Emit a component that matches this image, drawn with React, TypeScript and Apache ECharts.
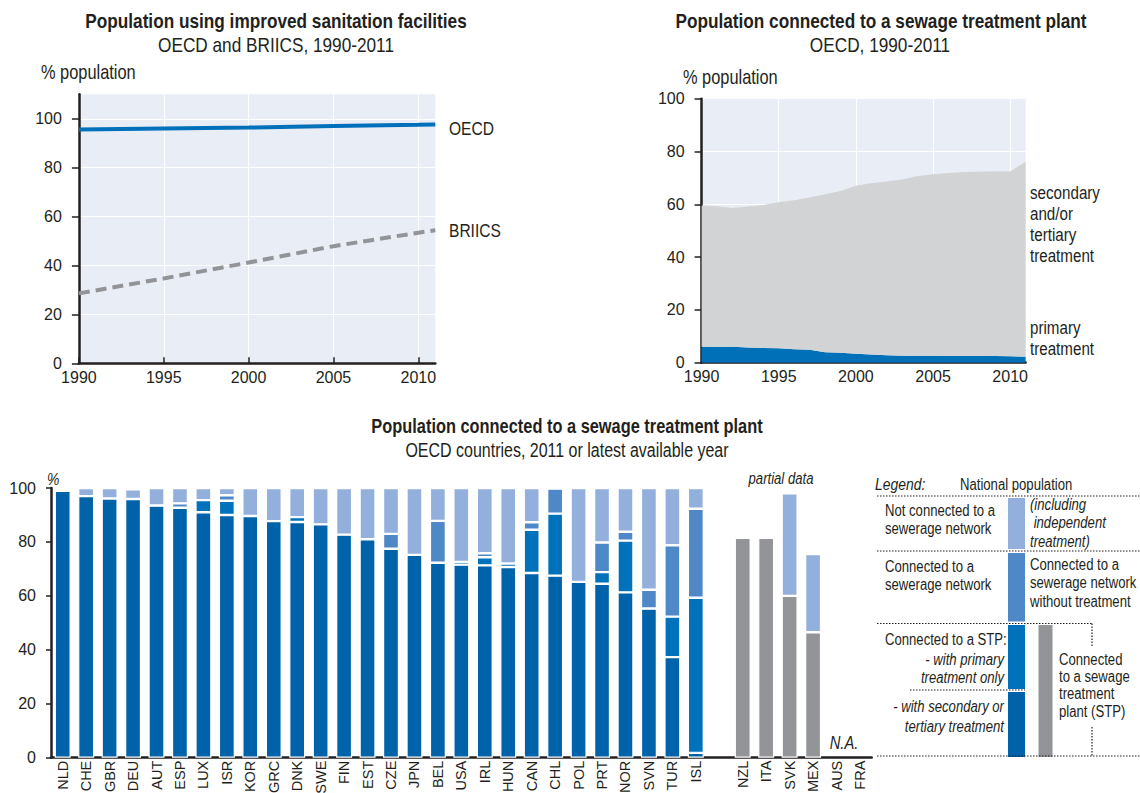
import React, { useEffect, useRef } from "react";
import * as echarts from "echarts";

const FONT = "'Liberation Sans', Arial, sans-serif";
const NARROW = 0.82;
const TXT = "#231F20";
const BG = "#E9EDF6";

// Chart 1: Population using improved sanitation facilities (% population)
const sanYears = [1990, 1995, 2000, 2005, 2010, 2011];
const oecdSan = [95.6, 96.0, 96.4, 97.0, 97.5, 97.7];
const briicsSan = [28.6, 34.7, 41.2, 47.9, 53.4, 54.4];

// Chart 2: OECD population connected to a sewage treatment plant
const stpYears = [
  "1990", "1991", "1992", "1993", "1994", "1995", "1996", "1997", "1998", "1999", "2000",
  "2001", "2002", "2003", "2004", "2005", "2006", "2007", "2008", "2009", "2010", "2011",
];
const stpPrimary = [6.0, 6.0, 6.0, 5.8, 5.6, 5.5, 5.1, 4.9, 4.0, 3.8, 3.4, 3.1, 2.8, 2.6, 2.6, 2.6, 2.5, 2.5, 2.5, 2.5, 2.4, 2.3];
const stpSecondary = [53.5, 53.3, 52.6, 53.4, 54.1, 55.3, 56.4, 57.7, 59.8, 61.2, 63.6, 64.9, 65.8, 66.8, 68.1, 68.8, 69.4, 69.7, 69.8, 70.0, 70.0, 73.8];

// Chart 3: OECD countries, 2011 or latest available year
const countries = [
  "NLD", "CHE", "GBR", "DEU", "AUT", "ESP", "LUX", "ISR", "KOR", "GRC", "DNK", "SWE", "FIN", "EST",
  "CZE", "JPN", "BEL", "USA", "IRL", "HUN", "CAN", "CHL", "POL", "PRT", "NOR", "SVN", "TUR", "ISL",
  "", "NZL", "ITA", "SVK", "MEX", "AUS", "FRA",
];
const secTertiary = [
  99.0, 97.0, 96.1, 95.9, 93.5, 92.7, 91.0, 90.0, 89.6, 87.7, 87.4, 86.5, 82.7, 81.0,
  77.5, 75.2, 72.3, 71.6, 71.3, 70.7, 68.5, 67.5, 65.2, 64.5, 61.3, 55.3, 37.3, 1.8,
  null, null, null, null, null, null, null,
];
const primaryOnly = [
  null, null, null, null, null, null, 4.5, 5.3, null, null, 1.8, null, null, null,
  null, null, null, 1.0, 3.0, 1.3, 16.0, 23.0, null, 4.3, 19.2, null, 15.0, 57.5,
  null, null, null, null, null, null, null,
];
const noTreatment = [
  null, null, null, null, null, 1.6, null, 2.0, null, null, null, null, null, null,
  5.5, null, 15.5, null, 1.5, null, 2.8, 9.3, null, 11.0, 3.3, 7.0, 26.5, 33.0,
  null, null, null, null, null, null, null,
];
const stpPartial = [
  null, null, null, null, null, null, null, null, null, null, null, null, null, null,
  null, null, null, null, null, null, null, null, null, null, null, null, null, null,
  null, 81.5, 81.5, 60.0, 46.5, null, null,
];
const notConnected = [
  null, 3.0, 3.9, 3.6, 6.5, 5.7, 4.5, 2.7, 10.4, 12.3, 10.8, 13.5, 17.3, 19.0,
  17.0, 24.8, 12.2, 27.4, 24.2, 28.0, 12.7, null, 34.8, 20.2, 16.2, 37.7, 21.2, 7.7,
  null, null, null, 38.0, 29.0, null, null,
];

const yTicks = [0, 20, 40, 60, 80, 100];
const xTicks = [1990, 1995, 2000, 2005, 2010];

function txt(text: string, x: number, y: number, o: any = {}) {
  return {
    type: "text",
    x,
    y,
    scaleX: NARROW,
    silent: true,
    style: {
      text,
      fill: TXT,
      fontFamily: FONT,
      fontSize: o.size ?? 15,
      fontWeight: o.bold ? "bold" : "normal",
      fontStyle: o.italic ? "italic" : "normal",
      align: o.align ?? "left",
      verticalAlign: "middle",
    },
  };
}
function dotted(x1: number, y1: number, x2: number, y2: number) {
  return {
    type: "line",
    silent: true,
    shape: { x1, y1, x2, y2 },
    style: { stroke: TXT, lineWidth: 1.2, lineDash: [1.5, 1.5] },
  };
}
function swatch(x: number, y: number, w: number, h: number, fill: string) {
  return { type: "rect", silent: true, shape: { x, y, width: w, height: h }, style: { fill } };
}

const C_SEC = "#0063A9";
const C_PRIM = "#0072BC";
const C_NOT = "#4E88C7";
const C_LIGHT = "#93B0DC";
const C_GRAY = "#929497";

export default function App() {
  const ref = useRef<HTMLDivElement>(null);
  useEffect(() => {
    document.body.style.margin = "0";
    const chart = echarts.init(ref.current!, null, { renderer: "svg" });
    const axisLbl = { color: TXT, fontFamily: FONT, fontSize: 16 };
    const blackLine = { show: true, lineStyle: { color: TXT, width: 2.5 } };

    const barSeries = (name: string, data: any[], color: string) => ({
      name,
      type: "bar",
      xAxisIndex: 2,
      yAxisIndex: 2,
      stack: "pop",
      barWidth: 16,
      data,
      itemStyle: { color, borderColor: "#fff", borderWidth: 1.2 },
    });

    const graphics: any[] = [
      txt("Population using improved sanitation facilities", 276, 21, { size: 21, bold: true, align: "center" }),
      txt("OECD and BRIICS, 1990-2011", 276, 45, { size: 21, align: "center" }),
      txt("% population", 41, 72, { size: 20 }),
      txt("OECD", 449, 128, { size: 19 }),
      txt("BRIICS", 449, 230, { size: 19 }),

      txt("Population connected to a sewage treatment plant", 881, 21, { size: 21, bold: true, align: "center" }),
      txt("OECD, 1990-2011", 880, 45, { size: 21, align: "center" }),
      txt("% population", 683, 77, { size: 20 }),
      txt("secondary", 1030, 193, { size: 18.5 }),
      txt("and/or", 1030, 214, { size: 18.5 }),
      txt("tertiary", 1030, 235, { size: 18.5 }),
      txt("treatment", 1030, 256, { size: 18.5 }),
      txt("primary", 1030, 328, { size: 18.5 }),
      txt("treatment", 1030, 349, { size: 18.5 }),

      txt("Population connected to a sewage treatment plant", 567, 426, { size: 20, bold: true, align: "center" }),
      txt("OECD countries, 2011 or latest available year", 567, 450, { size: 19.5, align: "center" }),
      txt("%", 47, 479, { size: 17, italic: true }),
      txt("partial data", 781, 479, { size: 16, italic: true, align: "center" }),
      txt("N.A.", 844, 742, { size: 18, italic: true, align: "center" }),

      // Legend
      txt("Legend:", 875, 484, { size: 17, italic: true }),
      txt("National population", 960, 485, { size: 16 }),
      dotted(877, 496, 1140, 496),
      swatch(1008, 498, 17, 51, C_LIGHT),
      txt("Not connected to a", 885, 511, { size: 16 }),
      txt("sewerage network", 885, 529, { size: 16 }),
      txt("(including", 1030, 505, { size: 16, italic: true }),
      txt(" independent", 1030, 523, { size: 16, italic: true }),
      txt("treatment)", 1030, 542, { size: 16, italic: true }),
      dotted(877, 551, 1140, 551),
      swatch(1008, 553, 17, 68.5, C_NOT),
      txt("Connected to a", 885, 567, { size: 16 }),
      txt("sewerage network", 885, 585, { size: 16 }),
      txt("Connected to a", 1030, 565, { size: 16 }),
      txt("sewerage network", 1030, 583, { size: 16 }),
      txt("without treatment", 1030, 602, { size: 16 }),
      dotted(877, 623.5, 1093, 623.5),
      dotted(1092, 623.5, 1092, 647),
      dotted(1092, 727, 1092, 756),
      swatch(1008, 625, 17, 64, C_PRIM),
      swatch(1008, 692, 17, 65, C_SEC),
      swatch(1038.5, 625, 14, 132, C_GRAY),
      txt("Connected to a STP:", 885, 640, { size: 16 }),
      txt("- with primary", 1004, 660, { size: 16, italic: true, align: "right" }),
      txt("treatment only", 1004, 678, { size: 16, italic: true, align: "right" }),
      dotted(910, 690, 1025, 690),
      txt("- with secondary or", 1004, 707, { size: 16, italic: true, align: "right" }),
      txt("tertiary treatment", 1004, 727, { size: 16, italic: true, align: "right" }),
      txt("Connected", 1059, 660, { size: 16 }),
      txt("to a sewage", 1059, 677, { size: 16 }),
      txt("treatment", 1059, 694, { size: 16 }),
      txt("plant (STP)", 1059, 712, { size: 16 }),
      dotted(877, 756, 1140, 756),
    ];

    chart.setOption({
      animation: false,
      textStyle: { fontFamily: FONT, color: TXT },
      grid: [
        { left: 78.9, top: 94.3, width: 356.4, height: 269, show: true, backgroundColor: BG, borderWidth: 0, outerBoundsMode: "none", containLabel: false },
        { left: 701.6, top: 98.7, width: 324, height: 264, show: true, backgroundColor: BG, borderWidth: 0, outerBoundsMode: "none", containLabel: false },
        { left: 51, top: 488, width: 820.7, height: 269.7, outerBoundsMode: "none", containLabel: false },
      ],
      xAxis: [
        {
          gridIndex: 0,
          type: "value",
          min: 1990,
          max: 2011,
          interval: 5,
          axisLine: blackLine,
          axisTick: { show: true, inside: true, length: 6, lineStyle: { color: TXT, width: 1.5 }, customValues: xTicks },
          axisLabel: { ...axisLbl, margin: 6, customValues: xTicks, formatter: (v: number) => String(v) },
          splitLine: { show: true, lineStyle: { color: "#fff", width: 1 } },
        },
        {
          gridIndex: 1,
          type: "category",
          data: stpYears,
          boundaryGap: false,
          axisLine: blackLine,
          axisTick: { show: true, inside: true, length: 6, interval: (i: number) => i % 5 === 0, lineStyle: { color: TXT, width: 1.5 } },
          axisLabel: { ...axisLbl, margin: 6, interval: (i: number) => i % 5 === 0 },
          splitLine: { show: true, interval: (i: number) => i % 5 === 0, lineStyle: { color: "#fff", width: 1 } },
        },
        {
          gridIndex: 2,
          type: "category",
          data: countries,
          axisLine: { show: true, lineStyle: { color: TXT, width: 2.5 } },
          axisTick: { show: false },
          axisLabel: { color: TXT, fontFamily: FONT, fontSize: 14.5, rotate: 90, interval: 0, margin: 3 },
        },
      ],
      yAxis: [
        {
          gridIndex: 0,
          type: "value",
          min: 0,
          max: 110,
          interval: 20,
          axisLine: blackLine,
          axisTick: { show: true, length: 7, lineStyle: { color: TXT, width: 1.5 }, customValues: yTicks },
          axisLabel: { ...axisLbl, margin: 17, customValues: yTicks },
          splitLine: { show: true, lineStyle: { color: "#fff", width: 1 } },
        },
        {
          gridIndex: 1,
          type: "value",
          min: 0,
          max: 100,
          interval: 20,
          axisLine: blackLine,
          axisTick: { show: true, length: 7, lineStyle: { color: TXT, width: 1.5 } },
          axisLabel: { ...axisLbl, margin: 17 },
          splitLine: { show: true, lineStyle: { color: "#fff", width: 1 } },
        },
        {
          gridIndex: 2,
          type: "value",
          min: 0,
          max: 100,
          interval: 20,
          axisLine: { show: true, lineStyle: { color: TXT, width: 2.5 } },
          axisTick: { show: true, length: 5, lineStyle: { color: TXT, width: 1.5 } },
          axisLabel: { color: TXT, fontFamily: FONT, fontSize: 16, margin: 15 },
          splitLine: { show: false },
        },
      ],
      series: [
        {
          name: "OECD",
          type: "line",
          xAxisIndex: 0,
          yAxisIndex: 0,
          data: sanYears.map((y, i) => [y, oecdSan[i]]),
          symbol: "none",
          lineStyle: { color: "#0070BA", width: 4 },
        },
        {
          name: "BRIICS",
          type: "line",
          xAxisIndex: 0,
          yAxisIndex: 0,
          data: sanYears.map((y, i) => [y, briicsSan[i]]),
          symbol: "none",
          lineStyle: { color: "#929497", width: 4, type: [11, 6] },
        },
        {
          name: "primary treatment",
          type: "line",
          xAxisIndex: 1,
          yAxisIndex: 1,
          stack: "stp",
          data: stpPrimary,
          symbol: "none",
          lineStyle: { width: 0 },
          areaStyle: { color: "#0070B8", opacity: 1 },
        },
        {
          name: "secondary and/or tertiary treatment",
          type: "line",
          xAxisIndex: 1,
          yAxisIndex: 1,
          stack: "stp",
          data: stpSecondary,
          symbol: "none",
          lineStyle: { width: 0 },
          areaStyle: { color: "#D1D3D4", opacity: 1 },
        },
        barSeries("with secondary or tertiary treatment", secTertiary, C_SEC),
        barSeries("with primary treatment only", primaryOnly, C_PRIM),
        barSeries("Connected to a sewerage network without treatment", noTreatment, C_NOT),
        barSeries("Connected to a sewage treatment plant (STP)", stpPartial, C_GRAY),
        barSeries("Not connected to a sewerage network", notConnected, C_LIGHT),
      ],
      graphic: graphics,
    });
    return () => chart.dispose();
  }, []);
  return <div ref={ref} style={{ width: 1140, height: 793 }} />;
}
